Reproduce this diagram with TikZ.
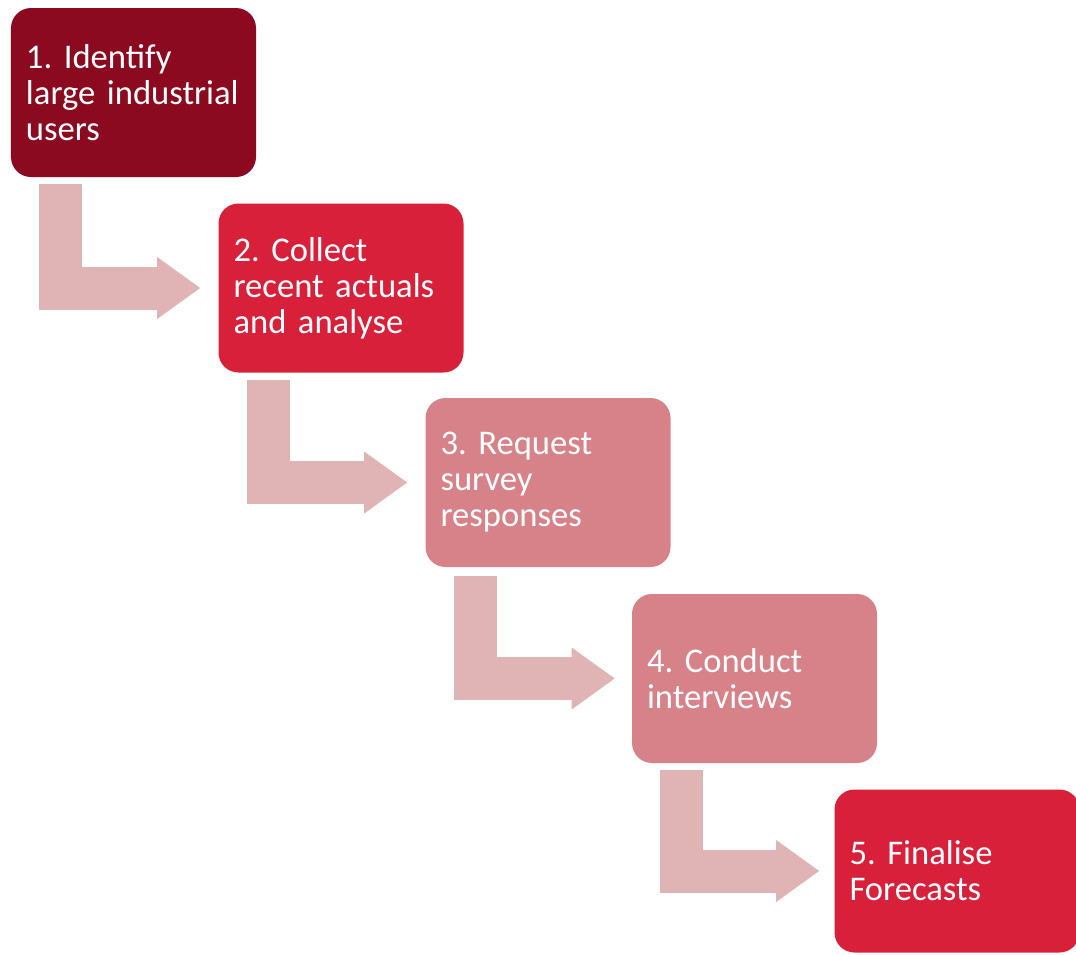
\documentclass[tikz,border=0pt]{standalone}
\usepackage{fontspec}
\setmainfont{Carlito}
\usetikzlibrary{arrows.meta}

\definecolor{stepdark}{RGB}{139,10,32}
\definecolor{stepred}{RGB}{216,32,58}
\definecolor{steppink}{RGB}{215,129,137}
\definecolor{flowpink}{RGB}{224,179,181}

\begin{document}
\frenchspacing
\begin{tikzpicture}[
  box/.style={rounded corners=0.4cm, text=white, minimum width=4.9cm,
    minimum height=3.38cm, text width=4.3cm, inner xsep=0.3cm, align=left,
    font=\fontsize{19.7}{20.5}\selectfont},
  flow/.style={draw=flowpink, line width=0.86cm,
    -{Triangle[width=1.24cm,length=0.86cm,line width=0pt]}}
]
  \useasboundingbox (0,0) rectangle (21.52,-19.1);

  % the five steps, stepping down to the right
  \node[box,fill=stepdark] (b1) at (2.67,-1.85) {1. Identify\\large industrial\\users};
  \node[box,fill=stepred] (b2) at (6.82,-5.76) {2. Collect\\recent actuals\\and analyse};
  \node[box,fill=steppink] (b3) at (10.96,-9.65) {3. Request\\survey\\responses};
  \node[box,fill=steppink] (b4) at (15.09,-13.57) {4. Conduct\\interviews};
  \node[box,fill=stepred,minimum width=4.76cm,minimum height=3.26cm] (b5) at (19.14,-17.42) {5. Finalise\\Forecasts};

  % bent arrows: down from one box, then right into the next
  \coordinate (s1) at ([xshift=1.0cm,yshift=-0.13cm]b1.south west);
  \coordinate (s2) at ([xshift=1.0cm,yshift=-0.15cm]b2.south west);
  \coordinate (s3) at ([xshift=1.0cm,yshift=-0.18cm]b3.south west);
  \coordinate (s4) at ([xshift=1.0cm,yshift=-0.14cm]b4.south west);

  \draw[flow] (s1) |- ([xshift=-0.36cm]b2.west);
  \draw[flow] (s2) |- ([xshift=-0.36cm]b3.west);
  \draw[flow] (s3) |- ([xshift=-0.34cm]b4.west);
  \draw[flow] (s4) |- ([xshift=-0.3cm]b5.west);
\end{tikzpicture}
\end{document}
